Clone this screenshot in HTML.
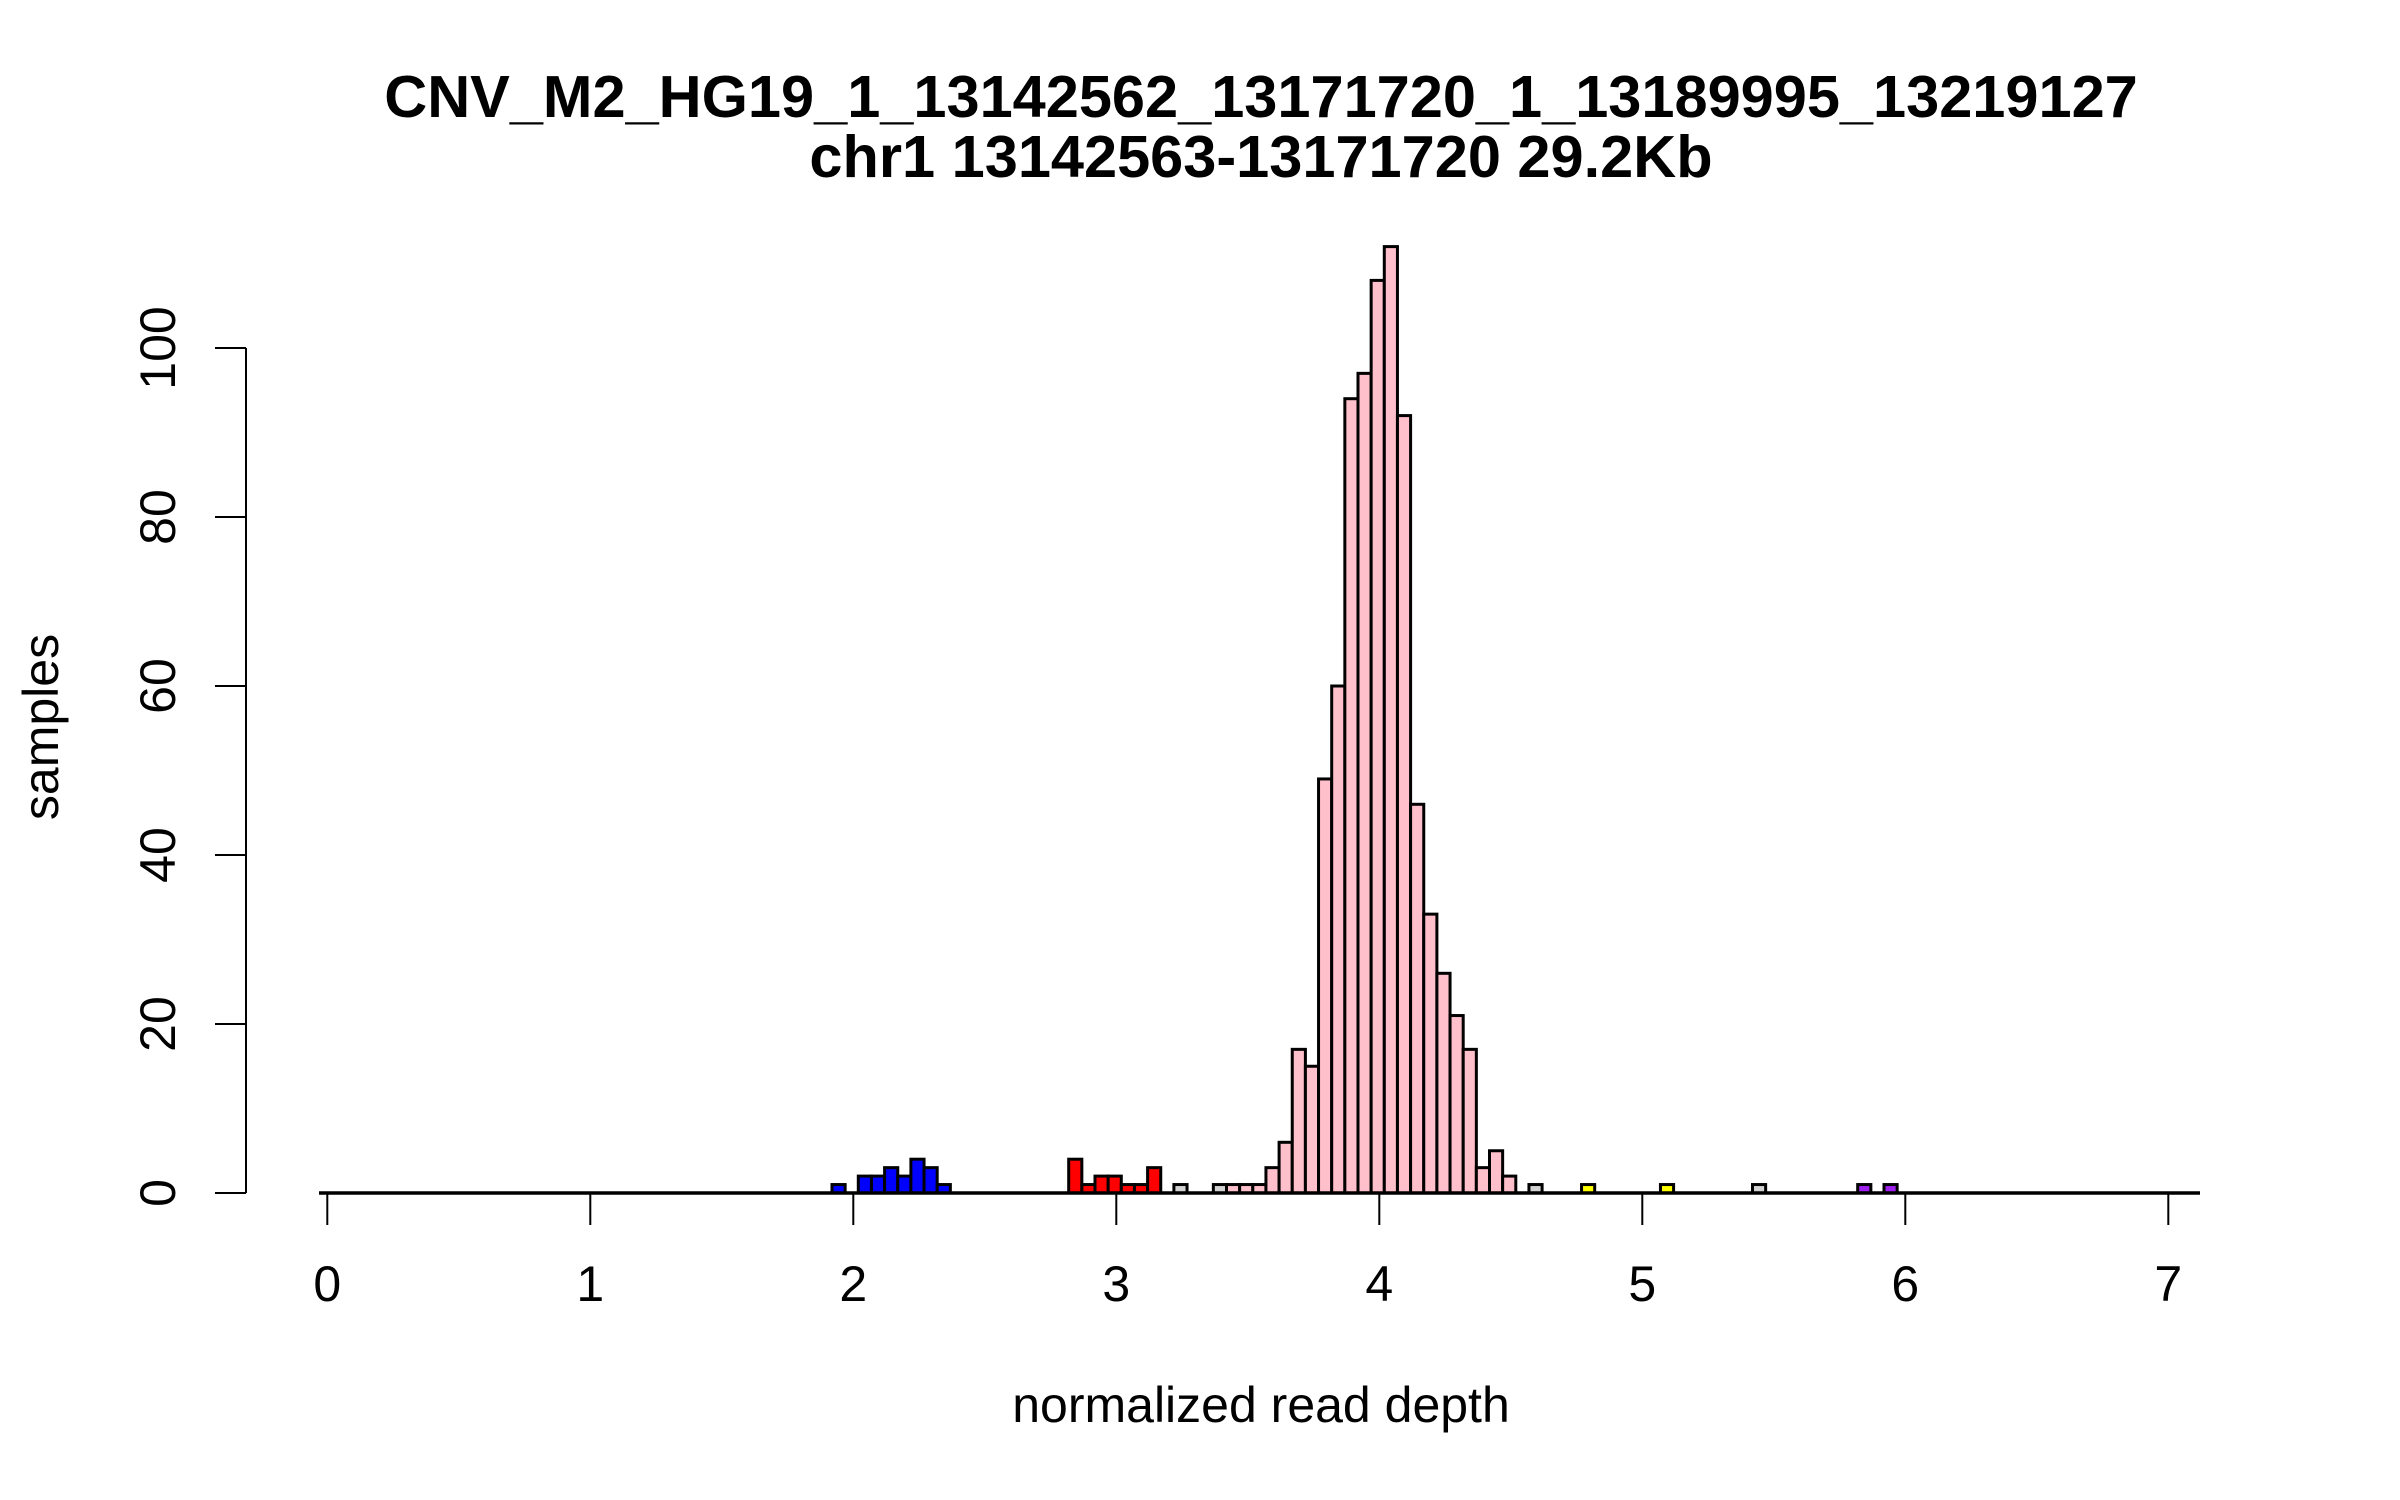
<!DOCTYPE html>
<html><head><meta charset="utf-8"><style>
html,body{margin:0;padding:0;background:#fff;}
svg{display:block;font-family:"Liberation Sans",Arial,sans-serif;}
</style></head><body>
<svg id="chart" width="2400" height="1500" viewBox="0 0 2400 1500" xmlns="http://www.w3.org/2000/svg">
<rect x="0" y="0" width="2400" height="1500" fill="#fff"/>
<text x="1261" y="117" text-anchor="middle" font-size="59.5" font-weight="bold">CNV_M2_HG19_1_13142562_13171720_1_13189995_13219127</text>
<text x="1261" y="177" text-anchor="middle" font-size="59.5" font-weight="bold">chr1 13142563-13171720 29.2Kb</text>
<text x="1261" y="1422" text-anchor="middle" font-size="50">normalized read depth</text>
<text transform="translate(58,727) rotate(-90)" text-anchor="middle" font-size="50">samples</text>
<g id="bars"></g>
<g id="axes"></g>
</svg>
<script>
const binStart = 1.919;
const binWidth = 0.05;
const binIndex = [0,2,3,4,5,6,7,8, 18,19,20,21,22,23,24, 26,29, 30,31,32,33,34,35,36,37,38,39,40,41,42,43,44,45,46,47,48,49,50,51, 53,57,63,70,78,80];
const binCounts = [1,2,2,3,2,4,3,1, 4,1,2,2,1,1,3, 1,1, 1,1,1,3,6,17,15,49,60,94,97,108,112,92,46,33,26,21,17,3,5,2, 1,1,1,1,1,1];
const binColors = ["blue","blue","blue","blue","blue","blue","blue","blue",
 "red","red","red","red","red","red","red",
 "gray","gray",
 "pink","pink","pink","pink","pink","pink","pink","pink","pink","pink","pink","pink","pink","pink","pink","pink","pink","pink","pink","pink","pink","pink",
 "gray","yellow","yellow","gray","purple","purple"];
const xTicks = [0,1,2,3,4,5,6,7];
const yTicks = [0,20,40,60,80,100];
const palette = {blue:"#0000ff",red:"#ff0000",gray:"#d3d3d3",pink:"#ffc0cb",yellow:"#ffff00",purple:"#a020f0"};

function xs(v){ return 327.3 + v*263; }
function ys(v){ return 1193 - v*8.45; }
const NS = "http://www.w3.org/2000/svg";
const bars = document.getElementById('bars');
const axes = document.getElementById('axes');

for (let i=0;i<binIndex.length;i++){
  const x0 = xs(binStart + binIndex[i]*binWidth);
  const x1 = xs(binStart + (binIndex[i]+1)*binWidth);
  const r = document.createElementNS(NS,'rect');
  r.setAttribute('x', x0);
  r.setAttribute('y', ys(binCounts[i]));
  r.setAttribute('width', x1-x0);
  r.setAttribute('height', ys(0)-ys(binCounts[i]));
  r.setAttribute('fill', palette[binColors[i]]);
  r.setAttribute('stroke', '#000');
  r.setAttribute('stroke-width', '3');
  
  
  bars.appendChild(r);
}

const base = document.createElementNS(NS,'line');
base.setAttribute('x1', 319); base.setAttribute('x2', 2200);
base.setAttribute('y1', 1193); base.setAttribute('y2', 1193);
base.setAttribute('stroke', '#000'); base.setAttribute('stroke-width', '3.5');


bars.appendChild(base);

const xl = document.createElementNS(NS,'line');
xl.setAttribute('x1', xs(xTicks[0])); xl.setAttribute('x2', xs(xTicks[xTicks.length-1]));
xl.setAttribute('y1', 1193); xl.setAttribute('y2', 1193);
xl.setAttribute('stroke', '#000'); xl.setAttribute('stroke-width', '2');


axes.appendChild(xl);
for (const t of xTicks){
  const tk = document.createElementNS(NS,'line');
  tk.setAttribute('x1', xs(t)); tk.setAttribute('x2', xs(t));
  tk.setAttribute('y1', 1193); tk.setAttribute('y2', 1225);
  tk.setAttribute('stroke', '#000'); tk.setAttribute('stroke-width', '2');
  
  
  axes.appendChild(tk);
  const lb = document.createElementNS(NS,'text');
  lb.setAttribute('x', xs(t)); lb.setAttribute('y', 1301);
  lb.setAttribute('text-anchor', 'middle'); lb.setAttribute('font-size', '50');
  lb.textContent = t;
  
  
  axes.appendChild(lb);
}
const yl = document.createElementNS(NS,'line');
yl.setAttribute('x1', 246); yl.setAttribute('x2', 246);
yl.setAttribute('y1', ys(yTicks[0])); yl.setAttribute('y2', ys(yTicks[yTicks.length-1]));
yl.setAttribute('stroke', '#000'); yl.setAttribute('stroke-width', '2');


axes.appendChild(yl);
for (const t of yTicks){
  const tk = document.createElementNS(NS,'line');
  tk.setAttribute('x1', 215); tk.setAttribute('x2', 246);
  tk.setAttribute('y1', ys(t)); tk.setAttribute('y2', ys(t));
  tk.setAttribute('stroke', '#000'); tk.setAttribute('stroke-width', '2');
  
  
  axes.appendChild(tk);
  const lb = document.createElementNS(NS,'text');
  lb.setAttribute('transform', 'translate(175,' + ys(t) + ') rotate(-90)');
  lb.setAttribute('text-anchor', 'middle'); lb.setAttribute('font-size', '50');
  lb.textContent = t;
  
  
  axes.appendChild(lb);
}
</script>
</body></html>
